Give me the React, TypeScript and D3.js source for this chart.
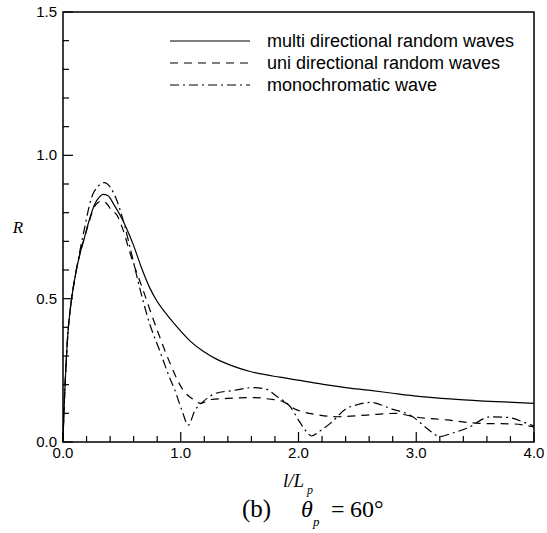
import React from "react";
import * as d3 from "d3";

const xMulti = [0, 0.005, 0.02, 0.04, 0.07, 0.1, 0.14, 0.18, 0.22, 0.27, 0.31, 0.34, 0.38, 0.43, 0.5, 0.54, 0.6, 0.66, 0.74, 0.8, 0.88, 0.95, 1.08, 1.2, 1.3, 1.45, 1.59, 1.84, 2.01, 2.21, 2.4, 2.61, 2.8, 2.98, 3.34, 3.68, 4.0];
const rMulti = [0, 0.07, 0.22, 0.37, 0.49, 0.57, 0.65, 0.71, 0.77, 0.83, 0.855, 0.864, 0.86, 0.83, 0.78, 0.745, 0.685, 0.615, 0.535, 0.49, 0.445, 0.41, 0.352, 0.314, 0.29, 0.264, 0.246, 0.226, 0.215, 0.201, 0.19, 0.18, 0.17, 0.161, 0.149, 0.141, 0.135];

const xUni = [0, 0.005, 0.02, 0.04, 0.07, 0.1, 0.14, 0.18, 0.22, 0.26, 0.3, 0.33, 0.37, 0.41, 0.46, 0.51, 0.57, 0.68, 0.8, 0.91, 1.02, 1.1, 1.17, 1.25, 1.4, 1.62, 1.75, 1.87, 1.96, 2.18, 2.33, 2.58, 2.83, 2.98, 3.26, 3.54, 3.82, 4.0];
const rUni = [0, 0.07, 0.22, 0.37, 0.49, 0.57, 0.65, 0.71, 0.765, 0.815, 0.836, 0.841, 0.832, 0.81, 0.79, 0.74, 0.658, 0.53, 0.39, 0.274, 0.181, 0.15, 0.135, 0.148, 0.152, 0.155, 0.15, 0.141, 0.117, 0.094, 0.088, 0.094, 0.1, 0.088, 0.077, 0.065, 0.063, 0.053];

const xMono = [0, 0.005, 0.02, 0.04, 0.07, 0.1, 0.14, 0.18, 0.24, 0.3, 0.35, 0.4, 0.45, 0.52, 0.58, 0.65, 0.73, 0.82, 0.9, 0.95, 1.01, 1.064, 1.12, 1.19, 1.3, 1.45, 1.62, 1.72, 1.82, 1.93, 2.01, 2.07, 2.11, 2.17, 2.27, 2.41, 2.5, 2.61, 2.78, 2.97, 3.09, 3.2, 3.3, 3.43, 3.63, 3.77, 3.94, 4.0];
const rMono = [0, 0.07, 0.22, 0.37, 0.49, 0.57, 0.66, 0.74, 0.85, 0.893, 0.905, 0.89, 0.85, 0.76, 0.66, 0.54, 0.42, 0.32, 0.23, 0.181, 0.11, 0.059, 0.11, 0.141, 0.17, 0.18, 0.19, 0.185, 0.158, 0.123, 0.07, 0.035, 0.021, 0.035, 0.065, 0.117, 0.13, 0.138, 0.117, 0.088, 0.048, 0.019, 0.03, 0.048, 0.088, 0.086, 0.065, 0.056];

const xMajor = [0, 1, 2, 3, 4];
const xMajorLabels = ["0.0", "1.0", "2.0", "3.0", "4.0"];
const yMajor = [0, 0.5, 1.0, 1.5];
const yMajorLabels = ["0.0", "0.5", "1.0", "1.5"];

const seriesNames = ["multi directional random waves", "uni directional random waves", "monochromatic wave"];

const dashes = ["none", "8,6", "9,4,2,4"];

export default function App() {
  const L = 63, R = 534, T = 12, B = 442;
  const x = d3.scaleLinear().domain([0, 4]).range([L, R]);
  const y = d3.scaleLinear().domain([0, 1.5]).range([B, T]);
  const line = d3
    .line<[number, number]>()
    .x((d) => x(d[0]))
    .y((d) => y(d[1]))
    .curve(d3.curveMonotoneX);

  const series = [
    d3.zip(xMulti, rMulti) as [number, number][],
    d3.zip(xUni, rUni) as [number, number][],
    d3.zip(xMono, rMono) as [number, number][],
  ];

  const xMinor = d3.range(0, 4.0001, 0.2).filter((v) => Math.abs(v - Math.round(v)) > 1e-6);
  const yMinor = d3.range(0, 1.5001, 0.1).filter((v) => Math.abs(v * 2 - Math.round(v * 2)) > 1e-6);

  const sans = "'Liberation Sans', Arial, sans-serif";
  const serif = "'Liberation Serif', 'Times New Roman', serif";

  return (
    <svg width={547} height={533} style={{ position: "absolute", left: 0, top: 0 }}>
      <rect x={0} y={0} width={547} height={533} fill="#fff" />
      {series.map((s, i) => (
        <path key={i} d={line(s) || ""} fill="none" stroke="#000" strokeWidth={1.2} strokeDasharray={dashes[i]} />
      ))}
      <rect x={L} y={T} width={R - L} height={B - T} fill="none" stroke="#000" strokeWidth={1.5} />
      {xMajor.map((v, i) => (
        <g key={"xm" + i}>
          <line x1={x(v)} x2={x(v)} y1={B} y2={B - 10} stroke="#000" strokeWidth={1.2} />
          <text x={x(v)} y={458} textAnchor="middle" fontFamily={sans} fontSize={15}>{xMajorLabels[i]}</text>
        </g>
      ))}
      {xMinor.map((v, i) => (
        <line key={"xn" + i} x1={x(v)} x2={x(v)} y1={B} y2={B - 6} stroke="#000" strokeWidth={1.2} />
      ))}
      {yMajor.map((v, i) => (
        <g key={"ym" + i}>
          <line x1={L} x2={L + 10} y1={y(v)} y2={y(v)} stroke="#000" strokeWidth={1.2} />
          <text x={57} y={y(v) + 5} textAnchor="end" fontFamily={sans} fontSize={15}>{yMajorLabels[i]}</text>
        </g>
      ))}
      {yMinor.map((v, i) => (
        <line key={"yn" + i} x1={L} x2={L + 6} y1={y(v)} y2={y(v)} stroke="#000" strokeWidth={1.2} />
      ))}
      {seriesNames.map((n, i) => (
        <g key={"lg" + i}>
          <line x1={170} x2={250} y1={41 + i * 22} y2={41 + i * 22} stroke="#000" strokeWidth={1.2} strokeDasharray={dashes[i]} />
          <text x={267} y={41 + i * 22 + 6} fontFamily={sans} fontSize={18}>{n}</text>
        </g>
      ))}
      <text x={18} y={233} textAnchor="middle" fontFamily={serif} fontStyle="italic" fontSize={17}>R</text>
      <text x={283} y={487} fontFamily={serif} fontStyle="italic" fontSize={19}>l/L</text>
      <text x={307} y={494} fontFamily={serif} fontStyle="italic" fontSize={12}>p</text>
      <text x={242} y={517} fontFamily={serif} fontSize={25}>(b)</text>
      <text x={301} y={517} fontFamily={serif} fontStyle="italic" fontSize={24}>θ</text>
      <text x={313} y={526} fontFamily={serif} fontStyle="italic" fontSize={13}>p</text>
      <text x={331} y={517} fontFamily={serif} fontSize={24}>=</text>
      <text x={350} y={517} fontFamily={serif} fontSize={24}>60°</text>
    </svg>
  );
}
